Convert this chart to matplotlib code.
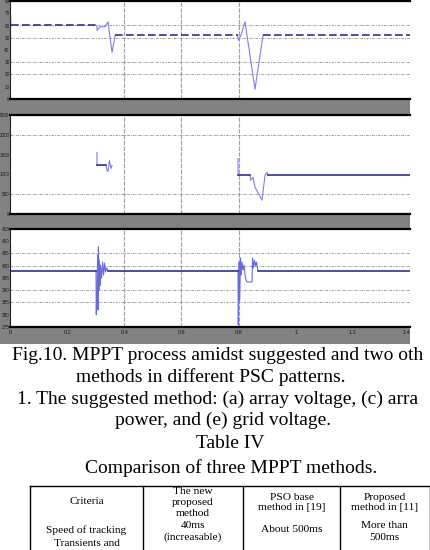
import numpy as np
import matplotlib
matplotlib.use("Agg")
import matplotlib.pyplot as plt
from matplotlib.patches import Rectangle
from matplotlib.lines import Line2D

# ---------------- data ----------------
x_ticks = [0, 0.2, 0.4, 0.6, 0.8, 1.0, 1.2, 1.4]
x_tick_labels = ["0", "0.2", "0.4", "0.6", "0.8", "1", "1.2", "1.4"]

# (a) array voltage
volt_t = [0, 0.001, 0.003, 0.304, 0.305, 0.315, 0.333, 0.343, 0.357, 0.368,
          0.797, 0.799, 0.8085, 0.8225, 0.8575, 0.8855, 1.4]
volt_v = [8, 75, 60, 60, 56, 59, 59, 63, 38, 52,
          52, 48, 52, 63, 8, 52, 52]
volt_steady = [(2, 3), (9, 10), (15, 16)]
volt_yticks = [0, 10, 20, 30, 40, 50, 60, 70, 80]
volt_grid = [20, 30, 50, 60]

# (c) array power
pow_t = [0, 0.0015, np.nan,
         0.3045, 0.3046, 0.336, 0.3395, 0.343, 0.348, 0.3535, 0.357, np.nan,
         0.798, 0.7985, 0.84, 0.8418, 0.8505, 0.8575, 0.882, 0.8925, 0.8995, 0.903, 1.4]
pow_v = [100, 2100, np.nan,
         1550, 1225, 1225, 1100, 1075, 1350, 1150, 1225, np.nan,
         1400, 975, 975, 850, 925, 675, 350, 975, 1050, 975, 975]
pow_steady = [(4, 5), (13, 14), (21, 22)]
pow_yticks = [0, 500, 1000, 1500, 2000, 2500]
pow_grid = [500, 2000]

# (e) grid voltage
grid_t = [0, 0.301, 0.302, 0.3035, 0.305, 0.3065, 0.308, 0.3095, 0.311, 0.3125,
          0.315, 0.3165, 0.3205, 0.324, 0.3275, 0.331, 0.3345, 0.338, 0.3428,
          0.798, 0.799, 0.800, 0.802, 0.804, 0.8068, 0.8095, 0.812, 0.8155,
          0.819, 0.8225, 0.826, 0.8295, 0.847, 0.8488, 0.8523, 0.8558, 0.8593,
          0.8628, 0.868, 1.4]
grid_v = [398, 398, 380, 390, 386, 404.4, 382, 407.7, 390, 402.3,
          392, 400.3, 395, 401.5, 396.2, 401.1, 397.5, 399.1, 398,
          398, 375.8, 384, 401.5, 386, 403.2, 396.2, 401.5, 398.3,
          400.3, 396.2, 394.2, 393.4, 393.4, 403.2, 399.1, 402.3, 399.9,
          401.5, 398, 398]
grid_steady = [(0, 1), (18, 19), (38, 39)]
grid_yticks = [375, 380, 385, 390, 395, 400, 405, 410, 415]
grid_grid = [385, 390, 400, 405]

caption_lines = [
    "Fig.10. MPPT process amidst suggested and two oth",
    "methods in different PSC patterns.",
    "1. The suggested method: (a) array voltage, (c) arra",
    "power, and (e) grid voltage.",
    "Table IV",
    "Comparison of three MPPT methods.",
]
table_cells = [
    (0, ["Criteria", "", "Speed of tracking", "Transients and"]),
    (1, ["The new", "proposed", "method", "40ms", "(increasable)"]),
    (2, ["PSO base", "method in [19]", "", "About 500ms"]),
    (3, ["Proposed", "method in [11]", "More than", "500ms"]),
]

# ---------------- layout ----------------
W, H = 430, 550
fig = plt.figure(figsize=(W / 100, H / 100), dpi=100)
fig.patch.set_facecolor("white")
fig.patches.append(Rectangle((0, 1 - 344 / H), 410 / W, 344 / H,
                             transform=fig.transFigure, facecolor="#828282",
                             edgecolor="none", zorder=-10))

NAVY = "#1d1d8c"
LIGHT = "#7f7fe0"


def make_ax(top, bottom):
    ax = fig.add_axes([10 / W, 1 - bottom / H, 400 / W, (bottom - top) / H])
    ax.set_facecolor("white")
    ax.set_xlim(0, 1.4)
    for s in ("top", "bottom"):
        ax.spines[s].set_linewidth(1.6)
        ax.spines[s].set_color("black")
    ax.spines["left"].set_linewidth(0.8)
    ax.spines["left"].set_color("#222222")
    ax.spines["right"].set_visible(False)
    for xv in (0.4, 0.6, 0.8):
        ax.axvline(xv, color="#a0a0a0", lw=0.8, ls=(0, (4, 1.2)), zorder=1)
    return ax


def style_y(ax, ticks, grids, lo, hi):
    ax.set_ylim(lo, hi)
    ax.set_yticks(ticks)
    ax.set_yticklabels([str(t) for t in ticks], family="Liberation Sans")
    ax.tick_params(axis="y", which="major", length=0, labelsize=3.3,
                   pad=0.4, labelcolor="#1a1a1a")
    ax.set_yticks(grids, minor=True)
    ax.tick_params(axis="y", which="minor", length=3.5, width=1.0,
                   direction="in", left=True, right=True, color="black")
    for g in grids:
        ax.axhline(g, color="#8c8c8c", lw=0.6, ls=(0, (3, 1.5, 1, 1.5)), zorder=1)


def draw_series(ax, t, v, steady, steady_style, trans_color, lw_s=1.1):
    t = np.asarray(t, float)
    v = np.asarray(v, float)
    bounds = sorted(steady)
    prev_end = 0
    for (a, b) in bounds:
        if a > prev_end:
            ax.plot(t[prev_end:a + 1], v[prev_end:a + 1], color=trans_color,
                    lw=0.8, zorder=2)
        prev_end = b
    if prev_end < len(t) - 1:
        ax.plot(t[prev_end:], v[prev_end:], color=trans_color, lw=0.8, zorder=2)
    for (a, b) in bounds:
        ax.plot(t[a:b + 1], v[a:b + 1], color=NAVY, lw=lw_s, zorder=3,
                **steady_style)


# panel (a)
ax1 = make_ax(1, 99)
style_y(ax1, volt_yticks, volt_grid, 0, 80)
draw_series(ax1, volt_t, volt_v, volt_steady, {"dashes": (5, 2.2)}, LIGHT)

# panel (c)
ax2 = make_ax(115, 214)
style_y(ax2, pow_yticks, pow_grid, 0, 2500)
draw_series(ax2, pow_t, pow_v, pow_steady, {}, LIGHT)

# panel (e)
ax3 = make_ax(229, 327)
style_y(ax3, grid_yticks, grid_grid, 375, 415)
draw_series(ax3, grid_t, grid_v, grid_steady, {}, "#6a6ad8")

for ax in (ax1, ax2):
    ax.set_xticks(x_ticks)
    ax.tick_params(axis="x", length=0, labelbottom=False)
ax3.set_xticks(x_ticks)
ax3.set_xticklabels(x_tick_labels, family="Liberation Sans")
ax3.tick_params(axis="x", length=0, labelsize=4.0, pad=2.0, labelcolor="#1a1a1a")
ax3.get_xticklabels()[-1].set_horizontalalignment("right")

# ---------------- caption ----------------
cap_pos = [(12, 356, "left"), (211, 377, "center"), (17, 399, "left"),
           (223, 420, "center"), (230, 444, "center"), (231, 468, "center")]
for (px, py, ha), line in zip(cap_pos, caption_lines):
    fig.text(px / W, 1 - py / H, line, ha=ha, va="center",
             family="Liberation Serif", fontsize=14, color="black")

# ---------------- table ----------------
col_edges = [30, 143, 243, 340, 429.5]
tbl_top = 486
fig.add_artist(Line2D([30 / W, 430 / W], [1 - tbl_top / H] * 2,
                      transform=fig.transFigure, color="black", lw=1.0))
for xe in col_edges:
    fig.add_artist(Line2D([xe / W] * 2, [1 - tbl_top / H, 0],
                          transform=fig.transFigure, color="black", lw=1.0))
row_y = {
    0: [502, None, 530, 544],
    1: [492, 502.5, 513, 525, 537],
    2: [497, 508, None, 530],
    3: [497, 508, 525, 537],
}
for ci, lines in table_cells:
    cx = (col_edges[ci] + col_edges[ci + 1]) / 2
    for line, yy in zip(lines, row_y[ci]):
        if not line or yy is None:
            continue
        fig.text(cx / W, 1 - yy / H, line, ha="center", va="center",
                 family="Liberation Serif", fontsize=8.2, color="black")

fig.savefig("out.png", dpi=100, facecolor=fig.get_facecolor())
